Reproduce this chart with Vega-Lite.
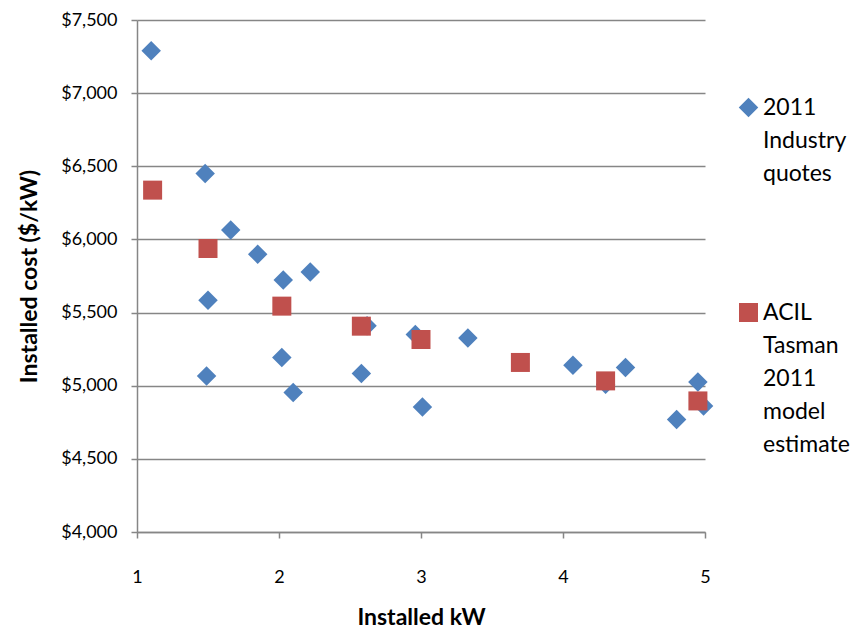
{
  "$schema": "https://vega.github.io/schema/vega-lite/v6.json",
  "autosize": "none",
  "width": 568,
  "height": 512,
  "padding": {"left": 137, "top": 20, "right": 156, "bottom": 96},
  "background": "white",
  "data": {
    "values": [
      {"series": "2011 Industry quotes", "kw": 1.10, "cost": 7290},
      {"series": "2011 Industry quotes", "kw": 1.48, "cost": 6451},
      {"series": "2011 Industry quotes", "kw": 1.66, "cost": 6064},
      {"series": "2011 Industry quotes", "kw": 1.85, "cost": 5899},
      {"series": "2011 Industry quotes", "kw": 2.03, "cost": 5722},
      {"series": "2011 Industry quotes", "kw": 2.22, "cost": 5778},
      {"series": "2011 Industry quotes", "kw": 1.50, "cost": 5585},
      {"series": "2011 Industry quotes", "kw": 1.49, "cost": 5067},
      {"series": "2011 Industry quotes", "kw": 2.02, "cost": 5193},
      {"series": "2011 Industry quotes", "kw": 2.10, "cost": 4953},
      {"series": "2011 Industry quotes", "kw": 2.58, "cost": 5083},
      {"series": "2011 Industry quotes", "kw": 2.62, "cost": 5410},
      {"series": "2011 Industry quotes", "kw": 2.96, "cost": 5350},
      {"series": "2011 Industry quotes", "kw": 3.01, "cost": 4855},
      {"series": "2011 Industry quotes", "kw": 3.33, "cost": 5327},
      {"series": "2011 Industry quotes", "kw": 4.07, "cost": 5140},
      {"series": "2011 Industry quotes", "kw": 4.30, "cost": 5010},
      {"series": "2011 Industry quotes", "kw": 4.44, "cost": 5124},
      {"series": "2011 Industry quotes", "kw": 4.80, "cost": 4769},
      {"series": "2011 Industry quotes", "kw": 4.95, "cost": 5026},
      {"series": "2011 Industry quotes", "kw": 4.99, "cost": 4862},
      {"series": "ACIL Tasman 2011 model estimate", "kw": 1.11, "cost": 6337},
      {"series": "ACIL Tasman 2011 model estimate", "kw": 1.50, "cost": 5938},
      {"series": "ACIL Tasman 2011 model estimate", "kw": 2.02, "cost": 5544},
      {"series": "ACIL Tasman 2011 model estimate", "kw": 2.58, "cost": 5407},
      {"series": "ACIL Tasman 2011 model estimate", "kw": 3.00, "cost": 5316},
      {"series": "ACIL Tasman 2011 model estimate", "kw": 3.70, "cost": 5159},
      {"series": "ACIL Tasman 2011 model estimate", "kw": 4.30, "cost": 5033},
      {"series": "ACIL Tasman 2011 model estimate", "kw": 4.95, "cost": 4896}
    ]
  },
  "mark": {"type": "point", "filled": true, "opacity": 1},
  "encoding": {
    "x": {
      "field": "kw", "type": "quantitative",
      "scale": {"domain": [1, 5], "nice": false, "zero": false},
      "axis": {
        "title": "Installed kW", "values": [1, 2, 3, 4, 5], "format": "d",
        "grid": false, "tickSize": 6, "labelPadding": 30, "titlePadding": 20, "labelFlush": false
      }
    },
    "y": {
      "field": "cost", "type": "quantitative",
      "scale": {"domain": [4000, 7500], "nice": false, "zero": false},
      "axis": {
        "title": "Installed cost ($/kW)", "values": [4000, 4500, 5000, 5500, 6000, 6500, 7000, 7500],
        "format": "$,.0f", "grid": true, "tickSize": 6, "labelPadding": 14, "titlePadding": 19
      }
    },
    "color": {
      "field": "series", "type": "nominal",
      "scale": {"domain": ["2011 Industry quotes", "ACIL Tasman 2011 model estimate"], "range": ["#4F81BD", "#C0504D"]},
      "legend": {
        "title": null, "orient": "none", "legendX": 600, "legendY": 76,
        "labelExpr": "datum.label == '2011 Industry quotes' ? ['2011', 'Industry', 'quotes'] : ['ACIL', 'Tasman', '2011', 'model', 'estimate']",
        "rowPadding": 115
      }
    },
    "shape": {
      "field": "series", "type": "nominal",
      "scale": {"domain": ["2011 Industry quotes", "ACIL Tasman 2011 model estimate"], "range": ["diamond", "square"]}
    },
    "size": {
      "field": "series", "type": "nominal",
      "scale": {"domain": ["2011 Industry quotes", "ACIL Tasman 2011 model estimate"], "range": [380, 361]},
      "legend": null
    },
    "order": {"field": "series", "type": "nominal"}
  },
  "config": {
    "font": "Lato",
    "view": {"stroke": null},
    "style": {"guide-label": {"lineHeight": 33}},
    "axis": {
      "labelFont": "Lato", "labelFontSize": 18, "labelColor": "#000000",
      "titleFont": "Lato", "titleFontSize": 23, "titleFontWeight": "bold", "titleColor": "#000000",
      "domainColor": "#868686", "domainWidth": 1.5, "tickColor": "#868686", "tickWidth": 1.5,
      "gridColor": "#868686", "gridWidth": 1.5
    },
    "legend": {
      "labelFont": "Lato", "labelFontSize": 23, "labelColor": "#000000",
      "symbolSize": 220, "symbolStrokeWidth": 0, "labelOffset": 3, "labelLimit": 200
    }
  }
}
